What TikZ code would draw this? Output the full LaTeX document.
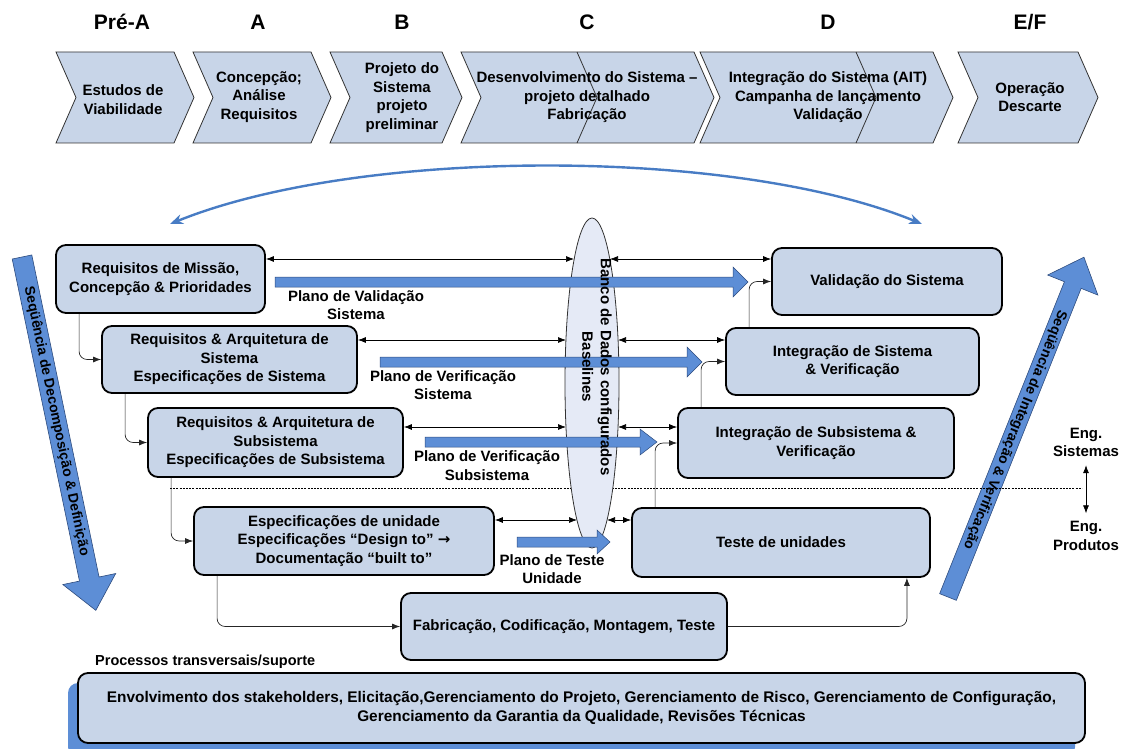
\documentclass[tikz,border=0pt]{standalone}
\usepackage{fontspec}
\setmainfont{Liberation Sans}
\newfontfamily\djv{DejaVu Sans}
\usetikzlibrary{arrows.meta,shapes.geometric}
\definecolor{boxfill}{RGB}{200,213,232}
\definecolor{ellfill}{RGB}{229,234,246}
\definecolor{bblue}{RGB}{93,142,214}
\definecolor{cblue}{RGB}{72,124,196}
\definecolor{bedge}{RGB}{45,75,125}
\newcommand\chevshape[2]{\draw[chev] (#1,52) -- (#2,52) -- (#2+20,97.5) -- (#2,143) -- (#1,143) -- (#1+20,97.5) -- cycle;}
\newcommand\planarrow[5]{\draw[plan] (#1,#4-5) -- (#2,#4-5) -- (#2,#4-#5) -- (#3,#4) -- (#2,#4+#5) -- (#2,#4+5) -- (#1,#4+5) -- cycle;}
\begin{document}
\begin{tikzpicture}[x=1pt,y=-1pt,
  every node/.style={font=\fontsize{15}{18.5}\selectfont\bfseries, text=black, inner sep=0pt, align=center},
  chev/.style={draw=black!80, line width=0.8pt, fill=boxfill},
  phase/.style={font=\fontsize{21}{24}\selectfont\bfseries},
  vbox/.style={draw=black, line width=1.8pt, fill=boxfill, rounded corners=10pt},
  link/.style={draw=black!85, line width=0.7pt, rounded corners=8pt, -{Latex[length=8pt,width=6pt]}},
  dlink/.style={draw=black, line width=0.7pt, {Latex[length=8pt,width=6pt]}-{Latex[length=8pt,width=6pt]}},
  plan/.style={draw=bedge, line width=0.5pt, fill=bblue},
  bigarrow/.style={draw=bedge, line width=0.6pt, fill=bblue},
]
\useasboundingbox (0,0) rectangle (1128,749);

% phase labels
\node[phase] (ph1) at (122,22) {Pré-A};
\node[phase] (ph2) at (258,22) {A};
\node[phase] (ph3) at (402,22) {B};
\node[phase] (ph4) at (587,22) {C};
\node[phase] (ph5) at (828,22) {D};
\node[phase] (ph6) at (1030,22) {E/F};

% chevrons
\chevshape{56}{174}
\chevshape{193}{311}
\chevshape{330}{442}
\chevshape{461}{694}
\draw[chev, fill=none] (577,52) -- (597,97.5) -- (577,143);
\chevshape{700}{933}
\draw[chev, fill=none] (856,52) -- (876,97.5) -- (856,143);
\chevshape{958}{1078}

\node (ch1) at (123,99.5) {Estudos de\\Viabilidade};
\node (ch2) at (259,97) {Concepção;\\Análise\\Requisitos};
\node (ch3) at (402,97.5) {Projeto do\\Sistema\\projeto\\preliminar};
\node (ch4) at (587,97.5) {Desenvolvimento do Sistema –\\projeto detalhado\\Fabricação};
\node (ch5) at (828,97.5) {Integração do Sistema (AIT)\\Campanha de lançamento\\Validação};
\node (ch6) at (1030,97) {Operação\\Descarte};

% curved blue arrow
\coordinate (cl) at (170,224);
\coordinate (cr) at (922,224);
\draw[cblue, line width=2.4pt, {Stealth[length=13pt,width=10pt]}-{Stealth[length=13pt,width=10pt]}] (cl) .. controls (360,147) and (735,147) .. (cr);

% diagonal arrows
\begin{scope}[shift={(22,257)}, rotate=-78.2]
  \draw[bigarrow] (0,-10) -- (329,-10) -- (329,-27) -- (361,0) -- (329,27) -- (329,10) -- (0,10) -- cycle;
\end{scope}
\node[rotate=-78.2, font=\fontsize{14}{15}\selectfont\bfseries] (seqL) at (56.4,421.4) {Seqüência de Decomposição \& Definição};
\begin{scope}[shift={(948,597)}, rotate=68.2]
  \draw[bigarrow] (0,-9) -- (336,-9) -- (336,-27) -- (366,0) -- (336,27) -- (336,9) -- (0,9) -- cycle;
\end{scope}
\node[rotate=-111.8, font=\fontsize{14}{15}\selectfont\bfseries] (seqR) at (1014.9,429.8) {Seqüência de Integração \& Verificação};

% dotted separator
\coordinate (dotL) at (170,488);
\coordinate (dotR) at (1082,488);
\draw[line width=0.9pt, dash pattern=on 2pt off 1.2pt] (dotL) -- (dotR);

% boxes
\node[vbox, minimum width=209, minimum height=68] (b1) at (160.5,279) {Requisitos de Missão,\\Concepção \& Prioridades};
\node[vbox, minimum width=255, minimum height=67] (b2) at (229.5,359.5) {Requisitos \& Arquitetura de\\Sistema\\Especificações de Sistema};
\node[vbox, minimum width=255, minimum height=69] (b3) at (275.5,442.5) {Requisitos \& Arquitetura de\\Subsistema\\Especificações de Subsistema};
\node[vbox, minimum width=300, minimum height=68] (b4) at (344,541) {Especificações de unidade\\Especificações “Design to” {\djv\bfseries →}\\Documentação “built to”};
\node[vbox, minimum width=326, minimum height=67] (b5) at (564,626.5) {Fabricação, Codificação, Montagem, Teste};
\node[vbox, minimum width=298, minimum height=69] (b6) at (781,542.5) {Teste de unidades};
\node[vbox, minimum width=276, minimum height=70] (b7) at (816,443) {Integração de Subsistema \&\\Verificação};
\node[vbox, minimum width=253, minimum height=67] (b8) at (852.5,361.5) {Integração de Sistema\\\& Verificação};
\node[vbox, minimum width=230, minimum height=67] (b9) at (887,281.5) {Validação do Sistema};

% vertical flow links
\draw[link] ([xshift=24pt]b1.south west) |- (b2.west);
\draw[link] ([xshift=24pt]b2.south west) |- (b3.west);
\draw[link] ([xshift=24pt]b3.south west) |- (b4.west);
\draw[link] ([xshift=24pt]b4.south west) |- (b5.west);
\draw[link] (b5.east) -| ([xshift=-24pt]b6.south east);
\draw[link] ([xshift=24pt]b6.north west) |- (b7.west);
\draw[link] ([xshift=24pt]b7.north west) |- (b8.west);
\draw[link] ([xshift=24pt]b8.north west) |- (b9.west);

% database ellipse
\node[ellipse, draw=black!80, line width=0.8pt, fill=ellfill, minimum width=54, minimum height=330] (db) at (592,383) {};

% plan arrows
\planarrow{275}{733}{748}{282}{15}
\planarrow{380}{687}{702}{362}{15}
\planarrow{425}{640}{657}{442}{13}
\planarrow{517}{597}{610}{542}{12}

\node[rotate=-90] (dbt) at (597,367) {Banco de Dados configurados\\Baselines};

\node (pl1) at (356,305) {Plano de Validação\\Sistema};
\node (pl2) at (443,385) {Plano de Verificação\\Sistema};
\node (pl3) at (487,465.5) {Plano de Verificação\\Subsistema};
\node (pl4) at (552,569) {Plano de Teste\\Unidade};

% double arrows through the database
\coordinate (e1l) at (574,259); \coordinate (e1r) at (610,259);
\coordinate (e2l) at (566,340); \coordinate (e2r) at (618,340);
\coordinate (e3l) at (566,427); \coordinate (e3r) at (618,427);
\coordinate (e4l) at (577,520); \coordinate (e4r) at (607,520);
\draw[dlink] (b1.east |- e1l) -- (e1l);
\draw[dlink] (e1r) -- (b9.west |- e1r);
\draw[dlink] (b2.east |- e2l) -- (e2l);
\draw[dlink] (e2r) -- (b8.west |- e2r);
\draw[dlink] (b3.east |- e3l) -- (e3l);
\draw[dlink] (e3r) -- (b7.west |- e3r);
\draw[dlink] (b4.east |- e4l) -- (e4l);
\draw[dlink] (e4r) -- (b6.west |- e4r);

% Eng labels
\node (engS) at (1086,442.5) {Eng.\\Sistemas};
\node (engP) at (1086,536) {Eng.\\Produtos};
\draw[dlink] ([yshift=-8pt]engS.south) -- ([yshift=8pt]engP.north);

% transversal processes
\node[anchor=west, font=\fontsize{14.5}{16}\selectfont\bfseries] (ptl) at (95,662) {Processos transversais/suporte};
\fill[bblue, rounded corners=10pt] (68,683) rectangle (1075,757);
\node[vbox, minimum width=1007, minimum height=70, font=\fontsize{15.4}{19}\selectfont\bfseries] (tp) at (581.5,708) {Envolvimento dos stakeholders, Elicitação,Gerenciamento do Projeto, Gerenciamento de Risco, Gerenciamento de Configuração,\\Gerenciamento da Garantia da Qualidade, Revisões Técnicas};
\end{tikzpicture}
\end{document}
